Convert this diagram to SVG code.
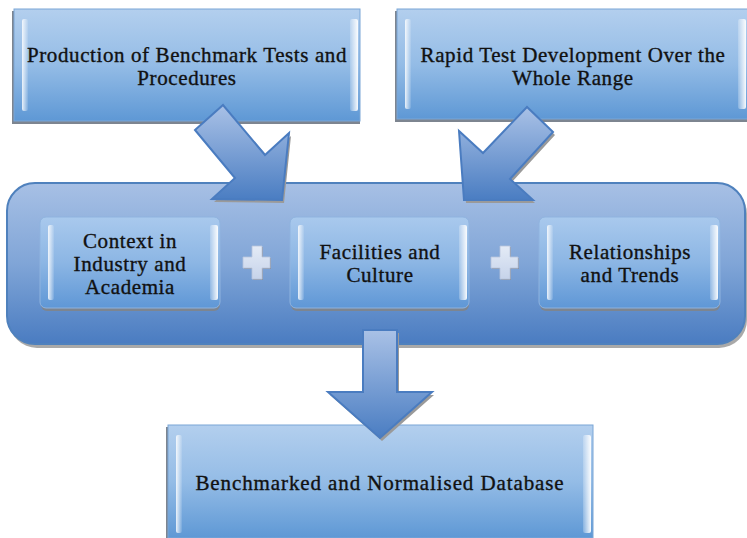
<svg xmlns="http://www.w3.org/2000/svg" width="747" height="538" viewBox="0 0 747 538">
  <defs>
    <linearGradient id="gBox" x1="0" y1="0" x2="0" y2="1">
      <stop offset="0" stop-color="#b3cfee"/>
      <stop offset="0.5" stop-color="#94bce6"/>
      <stop offset="1" stop-color="#5e98d5"/>
    </linearGradient>
    <linearGradient id="gCont" x1="0" y1="0" x2="0" y2="1">
      <stop offset="0" stop-color="#a7c0e5"/>
      <stop offset="0.5" stop-color="#80a5d7"/>
      <stop offset="1" stop-color="#4a7cc1"/>
    </linearGradient>
    <linearGradient id="gInner" x1="0" y1="0" x2="0" y2="1">
      <stop offset="0" stop-color="#a9c9ed"/>
      <stop offset="0.5" stop-color="#8cb6e4"/>
      <stop offset="1" stop-color="#5f97d6"/>
    </linearGradient>
    <linearGradient id="gArrow" x1="0" y1="0" x2="0" y2="1">
      <stop offset="0" stop-color="#a9c1e6"/>
      <stop offset="1" stop-color="#4a7dc2"/>
    </linearGradient>
    <linearGradient id="gHiL" x1="0" y1="0" x2="1" y2="0">
      <stop offset="0" stop-color="#ffffff" stop-opacity="0.85"/>
      <stop offset="1" stop-color="#ffffff" stop-opacity="0.1"/>
    </linearGradient>
    <linearGradient id="gHiR" x1="0" y1="0" x2="1" y2="0">
      <stop offset="0" stop-color="#ffffff" stop-opacity="0.2"/>
      <stop offset="1" stop-color="#ffffff" stop-opacity="0.95"/>
    </linearGradient>
    <linearGradient id="gPlus" x1="0" y1="0" x2="0" y2="1">
      <stop offset="0" stop-color="#e4ebf6"/>
      <stop offset="1" stop-color="#c6d3ea"/>
    </linearGradient>
  </defs>
  <style>
    .box { fill: url(#gBox); stroke: #7aa6d6; stroke-width: 1; }
    .shadow { fill: #7d8590; }
    .inner { fill: url(#gInner); stroke: #8fb3df; stroke-width: 1; }
    .hiL { fill: url(#gHiL); }
    .hiR { fill: url(#gHiR); }
    .cont { fill: url(#gCont); stroke: #4f81bd; stroke-width: 2; }
    .arrow { fill: url(#gArrow); stroke: #4a7cc0; stroke-width: 2; stroke-linejoin: miter; }
    .ashadow { fill: #9a9a9a; }
    .plus { fill: url(#gPlus); stroke: #b7c4dc; stroke-width: 0.8; }
    .pshadow { fill: #8b95a6; }
    text { font-family: "Liberation Serif", "DejaVu Serif", serif; font-size: 21px; letter-spacing: 0.6px; fill: #111111; stroke: #111111; stroke-width: 0.35px; text-anchor: middle; }
    .wide { letter-spacing: 0.9px; }
  </style>

  <!-- Top left node -->
  <g id="node-production">
    <rect class="shadow" x="12" y="11" width="348" height="113"/>
    <rect class="box" x="14" y="9" width="346" height="112"/>
    <rect class="hiL" x="22" y="19" width="6" height="92" rx="2"/>
    <rect class="hiR" x="350" y="19" width="8" height="92" rx="2"/>
    <text x="187" y="62">Production of Benchmark Tests and</text>
    <text x="187" y="85">Procedures</text>
  </g>

  <!-- Top right node -->
  <g id="node-rapid">
    <rect class="shadow" x="395" y="11" width="353" height="111"/>
    <rect class="box" x="397" y="9" width="352" height="110"/>
    <rect class="hiL" x="405" y="19" width="6" height="90" rx="2"/>
    <rect class="hiR" x="738" y="19" width="8" height="90" rx="2"/>
    <text x="573" y="62">Rapid Test Development Over the</text>
    <text x="573" y="85">Whole Range</text>
  </g>

  <!-- Container -->
  <g id="node-container">
    <rect x="9" y="186" width="738" height="162" rx="28" fill="#a9a9a9"/>
    <rect class="cont" x="7" y="183" width="738" height="161" rx="28"/>
  </g>

  <!-- Inner nodes -->
  <g id="node-context">
    <rect class="shadow" x="41" y="219" width="179" height="92" rx="6"/>
    <rect class="inner" x="40" y="217" width="180" height="91" rx="6"/>
    <rect class="hiL" x="48" y="225" width="6" height="75" rx="2"/>
    <rect class="hiR" x="210" y="225" width="8" height="75" rx="2"/>
    <text x="130" y="248">Context in</text>
    <text x="130" y="271">Industry and</text>
    <text x="130" y="294">Academia</text>
  </g>

  <g id="node-facilities">
    <rect class="shadow" x="291" y="219" width="178" height="92" rx="6"/>
    <rect class="inner" x="290" y="217" width="179" height="91" rx="6"/>
    <rect class="hiL" x="298" y="225" width="6" height="75" rx="2"/>
    <rect class="hiR" x="459" y="225" width="8" height="75" rx="2"/>
    <text x="380" y="259">Facilities and</text>
    <text x="380" y="282">Culture</text>
  </g>

  <g id="node-relationships">
    <rect class="shadow" x="540" y="219" width="180" height="92" rx="6"/>
    <rect class="inner" x="539" y="217" width="181" height="91" rx="6"/>
    <rect class="hiL" x="547" y="225" width="6" height="75" rx="2"/>
    <rect class="hiR" x="710" y="225" width="8" height="75" rx="2"/>
    <text x="630" y="259">Relationships</text>
    <text x="630" y="282">and Trends</text>
  </g>

  <!-- Plus signs -->
  <g id="plus-1">
    <path class="pshadow" d="M253,247 h10 v11 h8 v11 h-8 v11 h-10 v-11 h-9 v-11 h9 z"/>
    <path class="plus" d="M252,246 h10 v11 h8 v11 h-8 v11 h-10 v-11 h-9 v-11 h9 z"/>
  </g>
  <g id="plus-2">
    <path class="pshadow" d="M501,247 h10 v11 h8 v11 h-8 v11 h-10 v-11 h-9 v-11 h9 z"/>
    <path class="plus" d="M500,246 h10 v11 h8 v11 h-8 v11 h-10 v-11 h-9 v-11 h9 z"/>
  </g>

  <!-- Bottom node -->
  <g id="node-database">
    <rect class="shadow" x="166" y="427" width="427" height="112"/>
    <rect class="box" x="168" y="425" width="425" height="113"/>
    <rect class="hiL" x="176" y="435" width="6" height="98" rx="2"/>
    <rect class="hiR" x="583" y="435" width="8" height="98" rx="2"/>
    <text class="wide" x="380" y="490">Benchmarked and Normalised Database</text>
  </g>

  <!-- Connectors -->
  <g id="connectors">
    <polygon class="ashadow" points="197,133 225,108 268,157 291,136 284,203 214,202 237,181"/>
    <polygon class="arrow" points="195,130 223,105 265,155 289,133 282,200 212,199 235,178"/>
    <polygon class="ashadow" points="555,135 529,110 485,156 461,134 466,203 535,203 512,182"/>
    <polygon class="arrow" points="553,132 527,107 483,153 459,131 464,200 533,200 510,179"/>
    <polygon class="ashadow" points="365,333 399,333 399,395 434,395 382,441 330,395 365,395"/>
    <polygon class="arrow" points="363,330 397,330 397,392 432,392 380,438 328,392 363,392"/>
  </g>
</svg>
